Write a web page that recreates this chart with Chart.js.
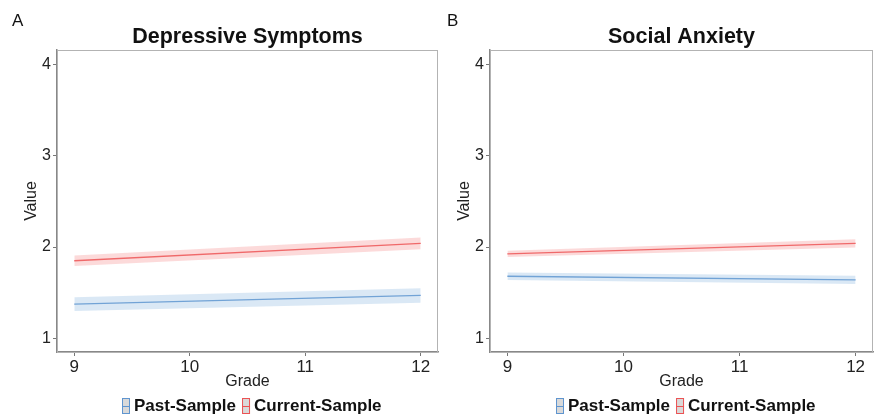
<!DOCTYPE html>
<html>
<head>
<meta charset="utf-8">
<script src="https://cdn.jsdelivr.net/npm/chart.js@4.4.1/dist/chart.umd.min.js"></script>
<style>
  body { margin: 0; background: #fff; }
  #wrap { position: relative; width: 875px; height: 415px; }
  .panel { position: absolute; top: 0; height: 415px; }
</style>
</head>
<body>
<div id="wrap">
  <div class="panel" style="left:0;width:440px"><canvas id="panelA"></canvas></div>
  <div class="panel" style="left:440px;width:435px"><canvas id="panelB"></canvas></div>
</div>
<script>
// data
var grades = [9, 12];
var xTicks = [9, 10, 11, 12];
var yTicks = [1, 2, 3, 4];
var seriesNames = ['Past-Sample', 'Current-Sample'];

// Depressive Symptoms
var depPast = [1.375, 1.47];
var depPastCI = [0.075, 0.08];
var depCurrent = [1.85, 2.04];
var depCurrentCI = [0.058, 0.064];

// Social Anxiety
var socPast = [1.68, 1.64];
var socPastCI = [0.042, 0.046];
var socCurrent = [1.925, 2.04];
var socCurrentCI = [0.035, 0.045];

var blueLine = '#5f95cf', blueBand = 'rgba(150,188,225,0.35)';
var redLine = '#ec5253', redBand = 'rgba(245,150,150,0.35)';
var FONT = "'Liberation Sans', Arial, sans-serif";

function pts(vals, off) {
    var out = [];
    for (var i = 0; i < grades.length; i++) {
        out.push({x: grades[i], y: vals[i] + off[i]});
    }
    return out;
}
function neg(a) { return a.map(function(v){ return -v; }); }
function zero(a) { return a.map(function(){ return 0; }); }

function buildDatasets(past, pastCI, cur, curCI) {
    return [
        {label: 'pastLo', data: pts(past, neg(pastCI)), borderWidth: 0, pointRadius: 0, fill: false},
        {label: 'pastHi', data: pts(past, pastCI), borderWidth: 0, pointRadius: 0, fill: '-1', backgroundColor: blueBand},
        {label: 'curLo', data: pts(cur, neg(curCI)), borderWidth: 0, pointRadius: 0, fill: false},
        {label: 'curHi', data: pts(cur, curCI), borderWidth: 0, pointRadius: 0, fill: '-1', backgroundColor: redBand},
        {label: seriesNames[0], data: pts(past, zero(past)), borderColor: blueLine, borderWidth: 1.3, pointRadius: 0, fill: false},
        {label: seriesNames[1], data: pts(cur, zero(cur)), borderColor: redLine, borderWidth: 1.3, pointRadius: 0, fill: false}
    ];
}

// panel letter, title, border and the legend
var decorations = {
    id: 'decorations',
    afterDraw: function(chart) {
        var o = chart.options.plugins.decorations;
        var ctx = chart.ctx, a = chart.chartArea;
        ctx.save();
        ctx.strokeStyle = '#b3b3b3';
        ctx.lineWidth = 1;
        ctx.strokeRect(a.left + 0.5, a.top + 0.5, a.right - a.left - 1, a.bottom - a.top);

        ctx.fillStyle = '#111';
        ctx.font = '17px ' + FONT;
        ctx.textBaseline = 'alphabetic';
        ctx.textAlign = 'left';
        ctx.fillText(o.letter, o.letterX, 26);

        ctx.font = 'bold 21.5px ' + FONT;
        ctx.textAlign = 'center';
        ctx.fillText(o.title, (a.left + a.right) / 2, 43);

        // legend
        ctx.font = 'bold 17px ' + FONT;
        ctx.textAlign = 'left';
        ctx.textBaseline = 'middle';
        var keys = [blueLine, redLine];
        var x = o.legendX, y = 406;
        for (var i = 0; i < seriesNames.length; i++) {
            ctx.fillStyle = '#d9d9d9';
            ctx.fillRect(x, y - 8, 8, 16);
            ctx.strokeStyle = keys[i];
            ctx.lineWidth = 1;
            ctx.strokeRect(x + 0.5, y - 7.5, 7, 15);
            ctx.beginPath();
            ctx.moveTo(x, y + 0.5);
            ctx.lineTo(x + 8, y + 0.5);
            ctx.stroke();
            ctx.fillStyle = '#111';
            ctx.fillText(seriesNames[i], x + 12, y);
            x += 12 + ctx.measureText(seriesNames[i]).width + 6;
        }
        ctx.restore();
    }
};

function makePanel(id, title, letter, datasets, yWidth, padLeft, padRight, letterX, legendX) {
    var ctx = document.getElementById(id).getContext('2d');
    return new Chart(ctx, {
        type: 'line',
        data: {datasets: datasets},
        plugins: [decorations],
        options: {
            responsive: true,
            maintainAspectRatio: false,
            animation: false,
            layout: {padding: {left: padLeft, right: padRight, top: 50, bottom: 24}},
            plugins: {
                legend: {display: false},
                tooltip: {enabled: false},
                decorations: {title: title, letter: letter, letterX: letterX, legendX: legendX}
            },
            scales: {
                x: {
                    type: 'linear',
                    min: 8.85,
                    max: 12.15,
                    afterBuildTicks: function(s) { s.ticks = xTicks.map(function(v){ return {value: v}; }); },
                    afterFit: function(s) { s.height = 39; },
                    grid: {drawOnChartArea: false, drawTicks: true, tickLength: 4, color: '#777'},
                    border: {display: true, color: '#888', width: 1.5},
                    ticks: {color: '#222', font: {family: FONT, size: 17}, padding: 1, maxRotation: 0},
                    title: {display: true, text: 'Grade', color: '#222', font: {family: FONT, size: 16}, padding: 0}
                },
                y: {
                    type: 'linear',
                    min: 0.85,
                    max: 4.16,
                    afterBuildTicks: function(s) { s.ticks = yTicks.map(function(v){ return {value: v}; }); },
                    afterFit: function(s) { s.width = yWidth; },
                    grid: {drawOnChartArea: false, drawTicks: true, tickLength: 4, color: '#777'},
                    border: {display: true, color: '#888', width: 1.5},
                    ticks: {color: '#222', font: {family: FONT, size: 16}, padding: 2},
                    title: {display: true, text: 'Value', color: '#222', font: {family: FONT, size: 16}, padding: 0}
                }
            }
        }
    });
}

makePanel('panelA', 'Depressive Symptoms', 'A',
    buildDatasets(depPast, depPastCI, depCurrent, depCurrentCI), 35, 22, 2, 12, 122);
makePanel('panelB', 'Social Anxiety', 'B',
    buildDatasets(socPast, socPastCI, socCurrent, socCurrentCI), 35, 15, 2, 7, 116);
</script>
</body>
</html>
